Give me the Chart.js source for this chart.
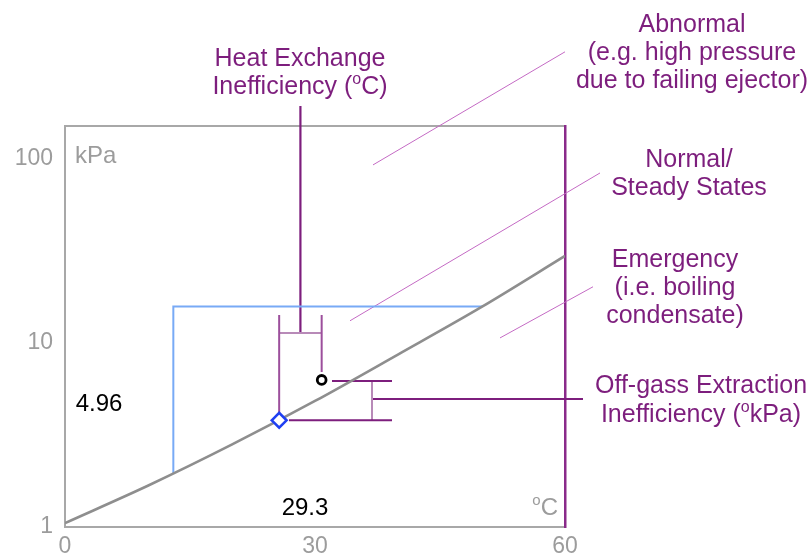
<!DOCTYPE html>
<html>
<head>
<meta charset="utf-8">
<script src="https://cdn.jsdelivr.net/npm/chart.js@4/dist/chart.umd.min.js"></script>
<style>
  html, body { margin: 0; padding: 0; background: #ffffff; }
  #wrap { width: 811px; height: 554px; position: relative; }
</style>
</head>
<body>
<div id="wrap"><canvas id="c" width="811" height="554"></canvas></div>
<script>
// Saturation curve of the condensate: temperature (°C) vs pressure (kPa)
const curveTemp     = [0, 10, 20, 30, 40, 50, 60];
const curvePressure = [1.05, 1.68, 2.8, 4.84, 8.68, 15.7, 29.7];

// Axis tick values
const xTicks = [0, 30, 60];
const yTicks = [1, 10, 100];

// Reference envelope (blue)
const envelopeTemp     = [13.0, 13.0, 50.1];
const envelopePressure = [1.96, 15.8, 15.8];

// Operating points
const saturatedPoint = { t: 25.7, p: 3.8 };    // diamond on the curve
const actualPoint    = { t: 30.8, p: 6.3 };    // measured state

// Readouts
const readPressure = 4.96;
const readTemp = 29.3;

// Heat-exchange bracket (°C difference)
const heatBracketTemp  = [25.7, 30.8];
const heatBracketTop   = 14.2;
const heatBracketBar   = 11.33;
const heatRightEnd     = 6.96;
const heatStemTop      = 194;

// Off-gas bracket (kPa difference)
const gasTopLine    = { p: 6.22, from: 32.04, to: 39.24 };
const gasBottomLine = { p: 3.8, from: 26.88, to: 39.24 };
const gasBracketTemp = 36.84;
const gasStemEnd     = 62.16;

// Region leader lines [temp, pressure]
const abnormalLeader  = [[36.96, 92.8], [60.0, 382]];
const normalLeader    = [[34.2, 13.2], [64.2, 83.9]];
const emergencyLeader = [[52.2, 10.65], [63.36, 20.2]];

const FONT = '"Liberation Sans", Arial, Helvetica, sans-serif';
const GRAY_AXIS = '#a8a8a8';
const GRAY_TEXT = '#9c9c9c';
const PURPLE = '#7d1e7d';
const PURPLE_MID = '#9c4f9c';
const PURPLE_LIGHT = '#b88ab8';
const LEADER = '#c46ac4';

const pts = (xs, ys) => xs.map((x, i) => ({ x: x, y: ys[i] }));
const seg = (a, b) => [{ x: a[0], y: a[1] }, { x: b[0], y: b[1] }];

function lineSet(data, color, width, extra) {
  return Object.assign({
    type: 'line', data: data, borderColor: color, borderWidth: width,
    pointRadius: 0, fill: false, tension: 0, clip: false, order: 5
  }, extra || {});
}

const datasets = [
  // markers on top
  { type: 'scatter', data: [{ x: actualPoint.t, y: actualPoint.p }], pointStyle: 'circle',
    pointRadius: 4.4, borderColor: '#000000', borderWidth: 2.8, backgroundColor: '#ffffff', order: 0 },
  { type: 'scatter', data: [{ x: saturatedPoint.t, y: saturatedPoint.p }], pointStyle: 'rectRot',
    pointRadius: 7.4, borderColor: '#1f3ff2', borderWidth: 2.6, backgroundColor: '#ffffff', order: 0 },

  // saturation curve
  lineSet(pts(curveTemp, curvePressure), '#8e8e8e', 2.6, { cubicInterpolationMode: 'monotone', order: 2, clip: true }),
  // envelope
  lineSet(pts(envelopeTemp, envelopePressure), '#78aaf6', 2, { order: 3 }),

  // heat-exchange bracket
  lineSet([{ x: heatBracketTemp[0], y: heatBracketTop }, { x: heatBracketTemp[0], y: saturatedPoint.p }], PURPLE_MID, 2),
  lineSet([{ x: heatBracketTemp[1], y: heatBracketTop }, { x: heatBracketTemp[1], y: heatRightEnd }], PURPLE_MID, 2),
  lineSet([{ x: heatBracketTemp[0], y: heatBracketBar }, { x: heatBracketTemp[1], y: heatBracketBar }], PURPLE_LIGHT, 2),
  lineSet([{ x: (heatBracketTemp[0] + heatBracketTemp[1]) / 2, y: heatBracketBar },
           { x: (heatBracketTemp[0] + heatBracketTemp[1]) / 2, y: heatStemTop }], PURPLE, 2.2),

  // off-gas bracket
  lineSet([{ x: gasTopLine.from, y: gasTopLine.p }, { x: gasTopLine.to, y: gasTopLine.p }], PURPLE, 2),
  lineSet([{ x: gasBottomLine.from, y: gasBottomLine.p }, { x: gasBottomLine.to, y: gasBottomLine.p }], PURPLE, 2),
  lineSet([{ x: gasBracketTemp, y: gasTopLine.p }, { x: gasBracketTemp, y: gasBottomLine.p }], PURPLE_LIGHT, 2),
  lineSet([{ x: gasBracketTemp, y: readPressure }, { x: gasStemEnd, y: readPressure }], PURPLE, 2.2),

  // region leaders
  lineSet(seg(abnormalLeader[0], abnormalLeader[1]), LEADER, 1),
  lineSet(seg(normalLeader[0], normalLeader[1]), LEADER, 1),
  lineSet(seg(emergencyLeader[0], emergencyLeader[1]), LEADER, 1)
];

// Draws a line of text whose pieces may be superscripts, centred or aligned at x
function drawRich(ctx, parts, x, baseline, size, color, align) {
  const supSize = Math.round(size * 0.62);
  let total = 0;
  const widths = parts.map(p => {
    ctx.font = (p.sup ? supSize : size) + 'px ' + FONT;
    const w = ctx.measureText(p.t).width;
    total += w;
    return w;
  });
  let cx = align === 'left' ? x : align === 'right' ? x - total : x - total / 2;
  ctx.fillStyle = color;
  ctx.textBaseline = 'alphabetic';
  ctx.textAlign = 'left';
  parts.forEach((p, i) => {
    ctx.font = (p.sup ? supSize : size) + 'px ' + FONT;
    ctx.fillText(p.t, cx, p.sup ? baseline - size * 0.42 : baseline);
    cx += widths[i];
  });
}

const notes = {
  id: 'notes',
  afterDraw(chart) {
    const ctx = chart.ctx;
    const area = chart.chartArea;
    ctx.save();
    const S = 25;
    // region and bracket captions
    drawRich(ctx, [{ t: 'Heat Exchange' }], 300, 66, S, PURPLE);
    drawRich(ctx, [{ t: 'Inefficiency (' }, { t: 'o', sup: true }, { t: 'C)' }], 300, 94, S, PURPLE);

    drawRich(ctx, [{ t: 'Abnormal' }], 692, 32, S, PURPLE);
    drawRich(ctx, [{ t: '(e.g. high pressure' }], 692, 60, S, PURPLE);
    drawRich(ctx, [{ t: 'due to failing ejector)' }], 692, 88, S, PURPLE);

    drawRich(ctx, [{ t: 'Normal/' }], 689, 167, S, PURPLE);
    drawRich(ctx, [{ t: 'Steady States' }], 689, 195, S, PURPLE);

    drawRich(ctx, [{ t: 'Emergency' }], 675, 267, S, PURPLE);
    drawRich(ctx, [{ t: '(i.e. boiling' }], 675, 295, S, PURPLE);
    drawRich(ctx, [{ t: 'condensate)' }], 675, 323, S, PURPLE);

    drawRich(ctx, [{ t: 'Off-gass Extraction' }], 701, 393, S, PURPLE);
    drawRich(ctx, [{ t: 'Inefficiency (' }, { t: 'o', sup: true }, { t: 'kPa)' }], 701, 422, S, PURPLE);

    // unit captions inside the frame
    drawRich(ctx, [{ t: 'kPa' }], area.left + 10, 163, 24, GRAY_TEXT, 'left');
    drawRich(ctx, [{ t: 'o', sup: true }, { t: 'C' }], area.right - 7, area.bottom - 12, 24, GRAY_TEXT, 'right');

    // readouts
    drawRich(ctx, [{ t: String(readPressure) }], 99, 411, 24, '#000000');
    drawRich(ctx, [{ t: String(readTemp) }], 305, 515, 24, '#000000');
    ctx.restore();
  }
};

new Chart(document.getElementById('c'), {
  data: { datasets: datasets },
  options: {
    responsive: false,
    animation: false,
    events: [],
    layout: { padding: { top: 126, right: 246, left: 0, bottom: 0 } },
    plugins: { legend: { display: false }, tooltip: { enabled: false } },
    scales: {
      x: {
        type: 'linear', position: 'bottom', min: 0, max: 60,
        afterFit(s) { s.height = 27; },
        afterBuildTicks(s) { s.ticks = xTicks.map(v => ({ value: v })); },
        ticks: { color: GRAY_TEXT, font: { size: 23, family: FONT }, padding: 6, maxRotation: 0, autoSkip: false },
        grid: { display: false, drawTicks: false },
        border: { display: true, color: GRAY_AXIS, width: 2 }
      },
      y: {
        type: 'logarithmic', position: 'left', min: 1, max: 151,
        afterFit(s) { s.width = 65; },
        afterBuildTicks(s) { s.ticks = yTicks.map(v => ({ value: v })); },
        ticks: { color: GRAY_TEXT, font: { size: 23, family: FONT }, padding: 12, autoSkip: false,
                 callback: v => String(v) },
        grid: { display: false, drawTicks: false },
        border: { display: true, color: GRAY_AXIS, width: 2 }
      },
      xTop: {
        type: 'linear', position: 'top', min: 0, max: 60,
        afterFit(s) { s.height = 0; },
        ticks: { display: false },
        grid: { display: false, drawTicks: false },
        border: { display: true, color: GRAY_AXIS, width: 2 }
      },
      yRight: {
        type: 'logarithmic', position: 'right', min: 1, max: 151,
        afterFit(s) { s.width = 0; },
        ticks: { display: false },
        grid: { display: false, drawTicks: false },
        border: { display: true, color: '#8a2a8a', width: 2.5 }
      }
    }
  },
  plugins: [notes]
});
</script>
</body>
</html>
